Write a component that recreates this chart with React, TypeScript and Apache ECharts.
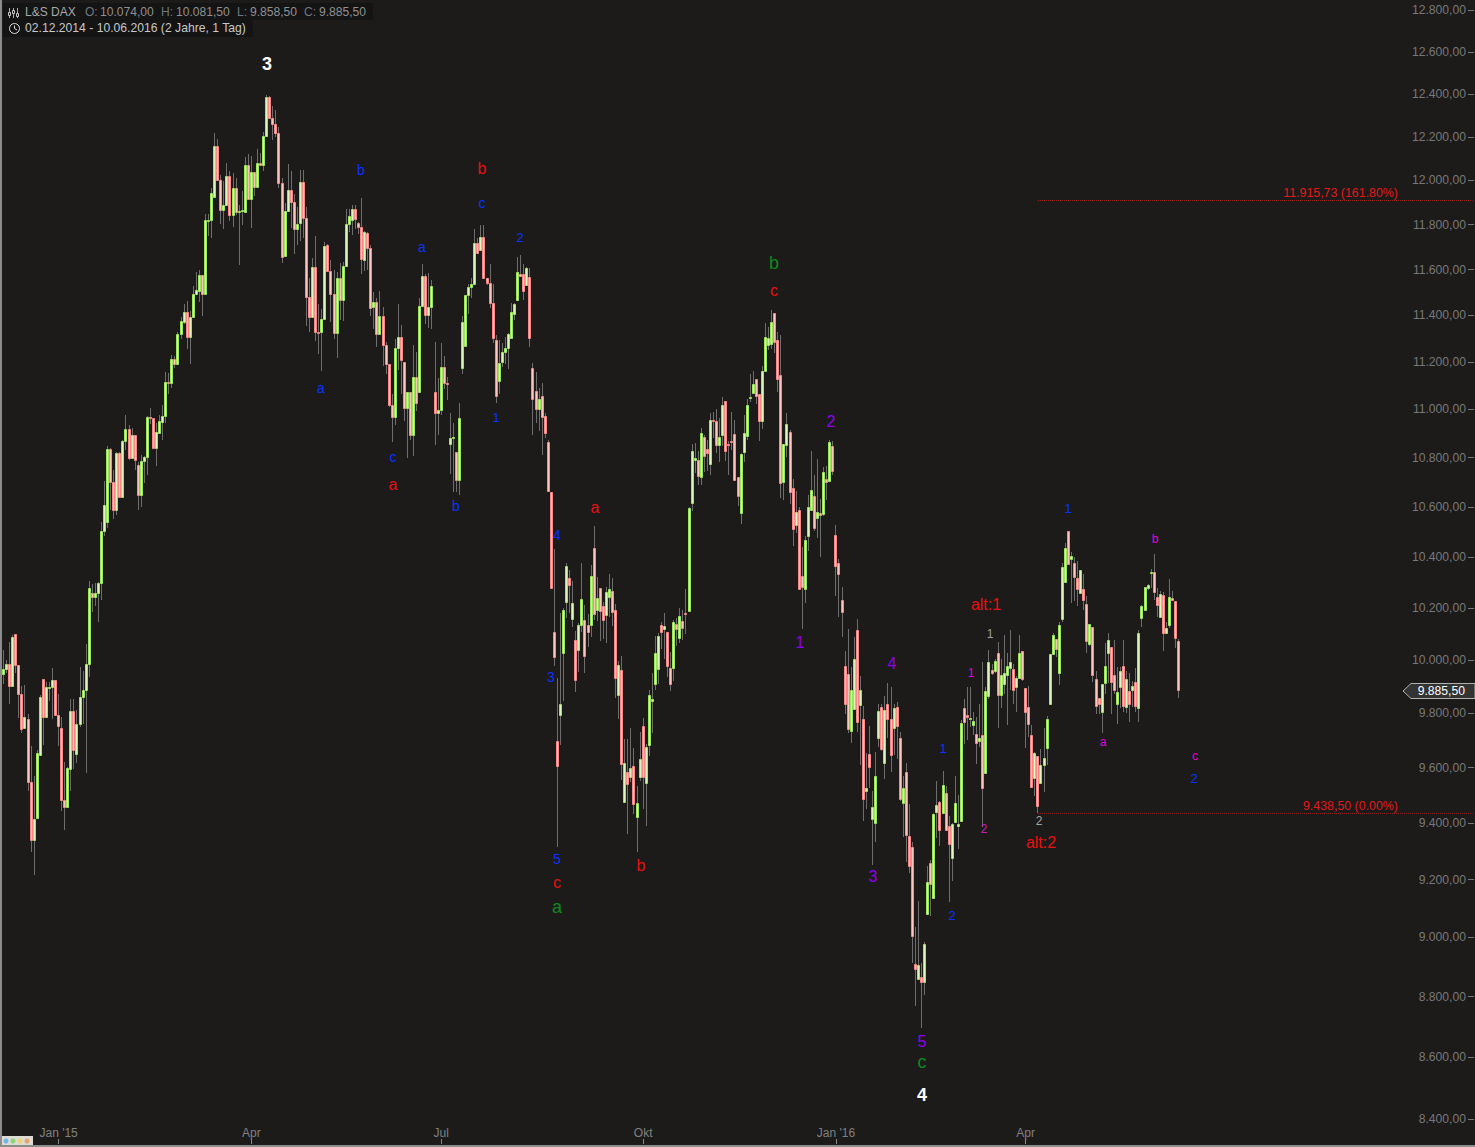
import React, { useEffect, useRef } from "react";
import * as echarts from "echarts";

// Each row: open, high, low, close
const candlesDec14 = [
[9946,10038,9909,9965],[9965,10000,9950,9984],[9984,10070,9834,9903],[9903,10096,9903,10087],[10098,10098,9952,9980],
[9980,9980,9782,9873],[9874,9904,9727,9743],[9746,9905,9746,9788],[9777,9796,9516,9548],[9549,9678,9298,9338],
[9338,9568,9217,9416],[9417,9665,9417,9654],[9647,9867,9647,9862],[9927,9927,9683,9788],[9788,9918,9788,9897],
[9897,9918,9846,9900],[9900,9970,9777,9923],[9923,9924,9795,9795],[9795,9871,9679,9753],[9747,9786,9444,9483],
];
const candlesJan15 = [
[9483,9621,9376,9456],[9456,9601,9456,9599],[9595,9852,9516,9810],[9810,9852,9595,9664],[9651,9811,9616,9762],
[9762,9974,9750,9862],[9862,9958,9760,9889],[9889,10061,9580,9984],[9984,10306,9937,10276],[10260,10292,10186,10242],
[10242,10299,10208,10260],[10260,10301,10147,10299],[10299,10540,10232,10501],[10501,10706,10481,10607],[10537,10849,10514,10835],
[10835,10838,10588,10701],[10701,10751,10551,10586],[10586,10824,10565,10819],[10819,10822,10639,10639],[10639,10873,10639,10868],
];
const candlesFeb15 = [
[10867,10978,10833,10917],[10917,10935,10792,10797],[10797,10921,10797,10893],[10893,10893,10751,10789],[10770,10780,10588,10649],
[10649,10812,10601,10786],[10786,10808,10695,10803],[10803,10974,10727,10966],[10966,11007,10939,10962],[10962,10962,10838,10838],
[10838,10941,10765,10905],[10903,10975,10900,10950],[10948,11017,10871,10974],[10974,11156,10944,11113],[11113,11152,11064,11109],
[11109,11228,11090,11211],[11211,11223,11176,11190],[11190,11328,11190,11318],[11318,11393,11299,11377],[11373,11451,11364,11416],
];
const candlesMar15 = [
[11416,11461,11256,11306],[11306,11419,11193,11393],[11393,11526,11393,11494],[11494,11588,11491,11512],[11507,11600,11458,11577],
[11577,11577,11397,11494],[11494,11845,11494,11821],[11818,11845,11748,11821],[11821,11967,11739,11944],[11924,12219,11924,12157],
[12157,12189,12003,12003],[12003,12023,11803,11867],[11867,11995,11779,11889],[11889,12081,11889,12021],[12021,12041,11818,11844],
[11844,12031,11788,11967],[11967,12012,11841,11858],[11858,11889,11619,11862],[11862,11950,11796,11867],[11858,12107,11858,12068],
];
const candlesApr15 = [
[12068,12119,11912,11917],[11917,12112,11783,12036],[12036,12036,11927,11971],[11971,12143,11971,12078],[12078,12124,12068,12068],
[12068,12223,12044,12203],[12203,12395,12203,12385],[12385,12392,12287,12287],[12287,12344,12186,12259],[12259,12326,12197,12217],
[12217,12245,11967,11989],[11989,12012,11628,11656],[11661,11898,11661,11862],[11862,12073,11862,11958],[11958,12041,11784,11903],
[11903,11939,11668,11781],[11781,11879,11708,11803],[11808,12046,11726,11994],[11994,12046,11739,11830],[11830,11877,11353,11481],
];
const candlesMay15 = [
[11481,11562,11329,11393],[11393,11652,11393,11612],[11612,11747,11291,11326],[11326,11451,11235,11323],[11326,11426,11163,11386],
[11386,11721,11386,11705],[11710,11714,11594,11594],[11594,11640,11372,11494],[11494,11596,11297,11325],[11325,11591,11218,11564],
[11564,11630,11379,11465],[11465,11632,11376,11616],[11616,11871,11616,11803],[11803,11871,11766,11839],[11822,11886,11751,11871],
[11871,11886,11781,11826],[11807,11811,11759,11790],[11790,11921,11581,11646],[11642,11773,11593,11767],[11763,11766,11596,11696],
];
const candlesJun15 = [
[11696,11707,11396,11431],[11437,11502,11342,11457],[11457,11474,11265,11318],[11318,11506,11318,11399],[11399,11438,11184,11271],
[11271,11284,11149,11190],[11190,11190,11010,11016],[11016,11064,10863,10969],[10969,11297,10935,11258],[11258,11447,11166,11305],
[11305,11360,11064,11206],[11199,11199,10951,11006],[11006,11071,10797,11071],[11071,11074,10873,10895],[10895,11272,10805,11135],
[11135,11243,10993,11028],[11071,11474,11071,11441],[11441,11624,11441,11571],[11571,11580,11362,11403],[11403,11586,11346,11438],
];
const candlesJul15 = [
[11438,11556,11342,11528],[11071,11284,10853,10986],[10986,11130,10894,10999],[10999,11279,10978,11177],[11177,11223,11084,11109],
[11109,11137,11038,11105],[10854,10986,10731,10880],[10880,10944,10660,10884],[10823,10823,10660,10709],[10709,11028,10649,10962],
[11173,11396,11147,11373],[11267,11486,11267,11486],[11486,11537,11407,11523],[11523,11562,11475,11537],[11537,11782,11537,11719],
[11719,11739,11674,11674],[11687,11800,11687,11745],[11745,11796,11564,11564],[11564,11564,11530,11542],[11542,11625,11431,11453],
];
const candlesAug15 = [
[11453,11537,11280,11301],[11292,11315,11027,11056],[11118,11294,11064,11197],[11199,11279,11180,11241],[11241,11305,11193,11258],
[11260,11325,11169,11318],[11301,11453,11301,11415],[11405,11453,11379,11449],[11465,11655,11465,11590],[11581,11662,11572,11572],
[11581,11626,11466,11506],[11532,11613,11532,11607],[11568,11607,11263,11301],[11173,11194,10891,11045],[11075,11155,10941,11003],
[11003,11088,10908,11045],[11055,11111,10812,10966],[10971,10984,10881,10901],[10865,10873,10662,10665],[10661,10661,10277,10277],
];
const candlesSep15 = [
[10109,10432,9977,10013],[9699,9931,9316,9605],[9794,10179,9682,9833],[10028,10199,9847,10191],[10225,10375,10160,10363],
[10316,10349,10179,10291],[10159,10306,10128,10218],[10076,10112,9880,9923],[10040,10141,9956,10133],[10136,10375,10108,10234],
[10153,10212,9952,10017],[10133,10175,10051,10109],[10133,10368,10090,10324],[10435,10521,10154,10175],[10191,10320,10151,10238],
[10277,10277,10074,10187],[10207,10222,10081,10153],[10172,10281,10067,10262],[10241,10333,10167,10273],[10265,10317,10132,10183],
];
const candlesOct15 = [
[10191,10214,9858,9931],[9870,9995,9778,9980],[9961,10014,9554,9614],[9477,9706,9477,9617],[9585,9703,9362,9542],
[9567,9744,9548,9599],[9606,9673,9432,9467],[9420,9532,9298,9470],[9567,9730,9550,9632],[9754,9781,9449,9567],
[9544,9685,9390,9676],[9682,9889,9643,9867],[9847,9950,9727,9852],[9908,10093,9887,10026],[9965,10105,9908,10091],
[10133,10145,10042,10106],[10118,10179,10006,10129],[10106,10106,9937,9976],[9969,10032,9884,9908],[9969,10154,9921,10145],
];
const candlesNov15 = [
[10138,10161,10055,10118],[10083,10199,10064,10168],[10149,10192,10076,10122],[10179,10273,10101,10175],[10187,10599,10187,10595],
[10615,10857,10581,10827],[10790,10860,10737,10799],[10790,10826,10687,10725],[10721,10921,10690,10901],[10884,10891,10740,10807],
[10835,10873,10744,10819],[10774,10986,10728,10954],[10956,10989,10880,10950],[10950,11000,10819,10852],[10852,10962,10781,10884],
[10892,11050,10846,11020],[11033,11033,10784,10827],[10857,10869,10728,10852],[10868,10990,10833,10864],[10897,10955,10709,10709],
];
const candlesDec15 = [
[10721,10721,10605,10644],[10575,10819,10530,10815],[10822,10976,10781,10901],[10889,11043,10874,11016],[11046,11149,11031,11050],
[11067,11162,11067,11105],[11126,11126,11021,11054],[11062,11062,10867,10950],[10950,11183,10918,11160],[11160,11367,11160,11305],
[11271,11350,11251,11301],[11275,11424,11254,11373],[11411,11411,11237,11284],[11292,11328,11072,11126],[11143,11315,10636,10697],
[10701,10856,10626,10856],[10852,10986,10801,10937],[10905,10914,10610,10660],[10676,10713,10445,10511],[10527,10662,10495,10579],
];
const candlesJan16 = [
[10587,10600,10273,10273],[10324,10441,10118,10281],[10273,10483,10221,10467],[10483,10648,10423,10599],[10587,10829,10587,10667],
[10644,10730,10504,10515],[10555,10796,10473,10579],[10575,10632,10399,10567],[10571,10762,10561,10741],[10713,10767,10626,10701],
[10705,10873,10705,10864],[10847,10868,10729,10745],[10487,10528,10245,10365],[10375,10391,10167,10332],[10230,10281,10090,10183],
[9976,10035,9798,9833],[9946,10119,9727,9742],[9735,9974,9690,9889],[9816,10090,9816,10006],[10114,10158,9731,9769],
];
const candlesFeb16 = [
[9831,9940,9610,9886],[9777,9826,9407,9485],[9516,9654,9450,9527],[9651,9752,9524,9601],[9415,9515,9252,9456],
[9399,9658,9334,9570],[9709,9833,9675,9810],[9825,9833,9659,9668],[9616,9863,9558,9813],[9833,9915,9709,9777],
[9777,9898,9583,9646],[9747,9833,9647,9821],[9825,9841,9632,9751],[9710,9730,9479,9487],[9473,9570,9349,9524],
[9585,9615,9260,9358],[9352,9467,9223,9249],[9313,9332,8912,9005],[8911,9034,8768,8894],[8859,9124,8859,8905],
];
const candlesMar16 = [
[8866,8913,8696,8849],[8849,8986,8804,8978],[9081,9246,9077,9192],[9259,9267,9074,9184],[9136,9434,9132,9431],
[9440,9550,9348,9463],[9474,9479,9319,9376],[9435,9586,9435,9535],[9506,9533,9373,9376],[9388,9425,9122,9326],
[9277,9399,9194,9395],[9402,9570,9402,9470],[9390,9502,9307,9396],[9406,9774,9406,9765],[9818,9852,9688,9769],
[9795,9899,9700,9788],[9780,9899,9749,9784],[9757,9805,9718,9770],[9725,9786,9614,9691],[9699,9836,9675,9710],
];
const candlesApr16 = [
[9721,9992,9387,9527],[9581,9897,9581,9882],[9863,10038,9855,9991],[9962,9987,9943,9950],[9957,10006,9950,9995],
[10026,10069,9747,9870],[9870,10006,9818,9942],[9908,10095,9874,9950],[9942,10029,9758,9976],[9969,10115,9887,9991],
[9965,9984,9836,9889],[9897,9938,9805,9931],[9931,10095,9931,10029],[10033,10033,9922,9927],[9893,9893,9671,9806],
[9825,9901,9712,9762],[9721,9756,9530,9530],[9563,9656,9498,9654],[9643,9643,9435,9461],[9544,9669,9544,9610],
];
const candlesMay16 = [
[9610,9747,9511,9635],[9672,9791,9610,9780],[9835,10022,9833,10022],[10022,10103,10022,10095],[10080,10080,10010,10042],
[9950,10146,9906,10135],[10159,10377,10147,10361],[10302,10457,10302,10435],[10502,10502,10373,10373],[10393,10421,10218,10403],
[10377,10400,10229,10322],[10318,10384,10209,10275],[10259,10348,10259,10348],[10275,10331,10192,10232],[10216,10248,10026,10073],
[10062,10138,10055,10138],[10126,10126,9918,9942],[9927,9957,9799,9829],[9859,9859,9799,9833],[9806,9908,9727,9908],
];
const candlesJun16 = [
[9915,10064,9874,9976],[10026,10103,9912,10076],[10051,10051,9799,9916],[9942,10076,9874,9886],[9836,9974,9759,9878],
[9897,9974,9821,9957],[9976,10076,9805,9829],[9825,9958,9801,9927],[9882,9950,9767,9836],[9886,9920,9825,9901],
[9916,9969,9805,9829],[9821,10117,9768,10105],[10160,10211,10127,10206],[10191,10283,10190,10283],[10279,10295,10270,10291],
[10336,10352,10278,10340],[10340,10410,10232,10262],[10242,10277,10167,10211],[10167,10268,10167,10254],[10250,10264,10035,10105],
[10102,10145,10102,10124],[10136,10312,10124,10242],[10238,10267,10227,10230],[10226,10226,10045,10083],[10074,10081.5,9858.5,9885.5],
];

const priceTicks = [12800,12600,12400,12200,12000,11800,11600,11400,11200,11000,10800,10600,10400,10200,10000,9800,9600,9400,9200,9000,8800,8600,8400];
const monthLabels: [number, string][] = [[18,"Jan '15"],[81,"Apr"],[143,"Jul"],[209,"Okt"],[272,"Jan '16"],[334,"Apr"]];
const fibUpperDrawn = 11908;
const fibLowerDrawn = 9434;
const fibStart = 338;
const lastClose = "9.885,50";
const axisSlots = 481;

const candles = [
  ...candlesDec14,...candlesJan15,...candlesFeb15,...candlesMar15,...candlesApr15,...candlesMay15,
  ...candlesJun15,...candlesJul15,...candlesAug15,...candlesSep15,...candlesOct15,...candlesNov15,
  ...candlesDec15,...candlesJan16,...candlesFeb16,...candlesMar16,...candlesApr16,...candlesMay16,...candlesJun16,
];

const fmtPrice = (v: number) => {
  const s = String(Math.round(v));
  return s.replace(/\B(?=(\d{3})+$)/g, ".") + ",00";
};

const BLUE = "#0a32ff", RED = "#e81010", GREEN = "#0c8a20", PURPLE = "#9000f0", MAGENTA = "#e800c8", GRAY = "#a8a898";
const FONT = '"Liberation Sans", Arial, sans-serif';

const T = (text: string, x: number, y: number, fill: string, size = 14, weight = "normal", align = "center", z = 20) => ({
  type: "text", x, y, z, silent: true,
  style: { text, fill, font: `${weight} ${size}px ${FONT}`, align, verticalAlign: "middle" },
});

const renderCandle = (params: any, api: any) => {
  const i = api.value(0);
  const o = api.value(1), h = api.value(2), l = api.value(3), c = api.value(4);
  const x = Math.floor(api.coord([i, o])[0]);
  const yO = api.coord([i, o])[1], yC = api.coord([i, c])[1];
  const yH = api.coord([i, h])[1], yL = api.coord([i, l])[1];
  const up = c >= o;
  const top = Math.round(Math.min(yO, yC)) + 0.5;
  const bot = Math.round(Math.max(yO, yC)) + 0.5;
  return {
    type: "group",
    children: [
      { type: "line", shape: { x1: x + 0.5, y1: Math.round(yH), x2: x + 0.5, y2: Math.round(yL) }, style: { stroke: "#6e6e6e", lineWidth: 1 }, silent: true },
      { type: "rect", shape: { x: x - 0.5, y: top, width: 2, height: Math.max(1, bot - top) },
        style: up ? { fill: "#dcf7bd", stroke: "#9be45c", lineWidth: 1 } : { fill: "#ffc6bf", stroke: "#f98888", lineWidth: 1 }, silent: true },
    ],
  };
};

export default function App() {
  const ref = useRef<HTMLDivElement>(null);
  useEffect(() => {
    document.body.style.margin = "0";
    document.body.style.background = "#1c1b1a";
    const chart = echarts.init(ref.current!, undefined, { renderer: "svg" });
    const cats = Array.from({ length: axisSlots }, (_, i) => {
      const m = monthLabels.find((e) => e[0] === i);
      return m ? m[1] : "";
    });
    const isLabel = (_: number, v: string) => v !== "";
    chart.setOption({
      animation: false,
      backgroundColor: "#1c1b1a",
      grid: { left: 2, top: 0, width: 1472, height: 1144 },
      xAxis: {
        type: "category", data: cats, boundaryGap: true,
        axisLine: { show: false },
        axisTick: { show: true, inside: true, length: 5, alignWithLabel: true, interval: isLabel, lineStyle: { color: "#8a8a8a" } },
        axisLabel: { show: true, inside: true, margin: 5, interval: isLabel, color: "#808080", fontSize: 12, fontFamily: "Liberation Sans" },
        splitLine: { show: false },
      },
      yAxis: {
        type: "log", logBase: 10, position: "right", min: 8320.6, max: 12850.8, scale: true,
        axisLine: { show: false },
        axisTick: { show: true, inside: true, length: 6, customValues: priceTicks, lineStyle: { color: "#777" } },
        axisLabel: { show: true, inside: true, margin: 8, customValues: priceTicks, color: "#787878", fontSize: 12.15, fontFamily: "Liberation Sans", formatter: (v: number) => fmtPrice(v) },
        splitLine: { show: false },
      },
      series: [
        {
          type: "custom", renderItem: renderCandle, clip: false,
          encode: { x: 0, y: [1, 2, 3, 4] },
          data: candles.map((r, i) => [i, r[0], r[1], r[2], r[3]]),
        },
        { type: "line", symbol: "none", silent: true, data: [[fibStart, fibUpperDrawn], [axisSlots - 1, fibUpperDrawn]], lineStyle: { color: "#b01c1c", width: 1, type: [1, 1] } },
        { type: "line", symbol: "none", silent: true, data: [[fibStart, fibLowerDrawn], [axisSlots - 1, fibLowerDrawn]], lineStyle: { color: "#a02020", width: 1, type: [1, 1] } },
      ],
      graphic: [
        { type: "rect", z: 30, silent: true, shape: { x: 0, y: 0, width: 2, height: 1147 }, style: { fill: "#8c8c8c" } },
        { type: "rect", z: 30, silent: true, shape: { x: 0, y: 1145, width: 1475, height: 2 }, style: { fill: "#8c8c8c" } },
        { type: "rect", z: 31, silent: true, shape: { x: 2, y: 1136, width: 31, height: 9 }, style: { fill: "#dedbd2" } },
        { type: "circle", z: 32, silent: true, shape: { cx: 6, cy: 1141, r: 2.5 }, style: { fill: "#6cb4e8" } },
        { type: "circle", z: 32, silent: true, shape: { cx: 13, cy: 1141, r: 2.5 }, style: { fill: "#8cd47c" } },
        { type: "circle", z: 32, silent: true, shape: { cx: 20, cy: 1141, r: 2.5 }, style: { fill: "#e8d478" } },
        { type: "circle", z: 32, silent: true, shape: { cx: 27, cy: 1141, r: 2.5 }, style: { fill: "#e8a078" } },

        { type: "rect", z: 18, silent: true, shape: { x: 3, y: 3, width: 370, height: 17 }, style: { fill: "#141414" } },
        { type: "rect", z: 18, silent: true, shape: { x: 3, y: 20, width: 250, height: 17 }, style: { fill: "#141414" } },
        { type: "line", z: 20, silent: true, shape: { x1: 9.5, y1: 8, x2: 9.5, y2: 18 }, style: { stroke: "#a8a8a8", lineWidth: 1 } },
        { type: "line", z: 20, silent: true, shape: { x1: 13.5, y1: 8, x2: 13.5, y2: 18 }, style: { stroke: "#a8a8a8", lineWidth: 1 } },
        { type: "line", z: 20, silent: true, shape: { x1: 17.5, y1: 8, x2: 17.5, y2: 18 }, style: { stroke: "#a8a8a8", lineWidth: 1 } },
        { type: "rect", z: 21, silent: true, shape: { x: 8.5, y: 12.5, width: 2, height: 3 }, style: { fill: "#141414", stroke: "#c8c8c8", lineWidth: 1 } },
        { type: "rect", z: 21, silent: true, shape: { x: 12.5, y: 10.5, width: 2, height: 3 }, style: { fill: "#141414", stroke: "#c8c8c8", lineWidth: 1 } },
        { type: "rect", z: 21, silent: true, shape: { x: 16.5, y: 13.5, width: 2, height: 3 }, style: { fill: "#141414", stroke: "#c8c8c8", lineWidth: 1 } },
        { type: "circle", z: 20, silent: true, shape: { cx: 14.5, cy: 28.5, r: 5 }, style: { fill: "none", stroke: "#e0e0e0", lineWidth: 1 } },
        { type: "polyline", z: 20, silent: true, shape: { points: [[14.5, 25.5], [14.5, 28.5], [17, 30]] } , style: { fill: "none", stroke: "#e0e0e0", lineWidth: 1 } },
        T("L&S DAX", 25, 12, "#a8a8a8", 12, "normal", "left"),
        T("O:", 85, 12, "#707880", 12, "normal", "left"),
        T("10.074,00", 100, 12, "#909090", 12.1, "normal", "left"),
        T("H:", 161, 12, "#707880", 12, "normal", "left"),
        T("10.081,50", 176, 12, "#909090", 12.1, "normal", "left"),
        T("L:", 237, 12, "#707880", 12, "normal", "left"),
        T("9.858,50", 250, 12, "#909090", 12.1, "normal", "left"),
        T("C:", 304, 12, "#707880", 12, "normal", "left"),
        T("9.885,50", 319, 12, "#909090", 12.1, "normal", "left"),
        T("02.12.2014 - 10.06.2016 (2 Jahre, 1 Tag)", 25, 28, "#c8c8c8", 12.17, "normal", "left"),

        T("11.915,73 (161.80%)", 1398, 193, "#e01a1a", 12.4, "normal", "right"),
        T("9.438,50 (0.00%)", 1398, 806, "#e01a1a", 12.4, "normal", "right"),

        { type: "polygon", z: 19, silent: true, shape: { points: [[1403, 691], [1411, 683.5], [1475, 683.5], [1475, 698.5], [1411, 698.5]] }, style: { fill: "#333333", stroke: "#b0b0b0", lineWidth: 1 } },
        T(lastClose, 1465, 691, "#ffffff", 12.15, "normal", "right"),

        T("3", 267, 64, "#ffffff", 18, "bold"),
        T("b", 361, 170, BLUE, 14), T("a", 321, 388, BLUE, 14), T("c", 393, 457, BLUE, 14), T("a", 393, 484, RED, 16),
        T("a", 422, 247, BLUE, 14), T("b", 456, 506, BLUE, 14), T("b", 482, 168, RED, 16), T("c", 482, 203, BLUE, 14),
        T("2", 520, 237, BLUE, 13), T("1", 496, 417, BLUE, 13), T("a", 595, 507, RED, 16), T("4", 557, 535, BLUE, 14),
        T("3", 551, 677, BLUE, 14), T("5", 557, 859, BLUE, 14), T("c", 557, 882, RED, 16), T("a", 557, 907, GREEN, 18),
        T("b", 641, 865, RED, 16), T("b", 774, 263, GREEN, 18), T("c", 774, 290, RED, 16),
        T("2", 831, 421, PURPLE, 16), T("1", 800, 642, PURPLE, 16), T("3", 873, 876, PURPLE, 16), T("4", 892, 663, PURPLE, 16),
        T("5", 922, 1041, PURPLE, 16), T("c", 922, 1062, GREEN, 18), T("4", 922, 1095, "#ffffff", 18, "bold"),
        T("1", 943, 748, BLUE, 13), T("2", 952, 915, BLUE, 13), T("1", 971, 673, MAGENTA, 12), T("2", 984, 829, "#c020c0", 12),
        T("1", 990, 634, "#9aa0a8", 12), T("2", 1039, 821, GRAY, 12), T("alt:1", 986, 604, RED, 16), T("alt:2", 1041, 842, RED, 16),
        T("1", 1068, 508, BLUE, 13), T("a", 1103, 742, MAGENTA, 12), T("b", 1155, 539, MAGENTA, 12),
        T("c", 1195, 756, MAGENTA, 12), T("2", 1194, 778, BLUE, 13),
      ],
    });
    return () => chart.dispose();
  }, []);
  return <div ref={ref} style={{ width: 1475, height: 1147 }} />;
}
